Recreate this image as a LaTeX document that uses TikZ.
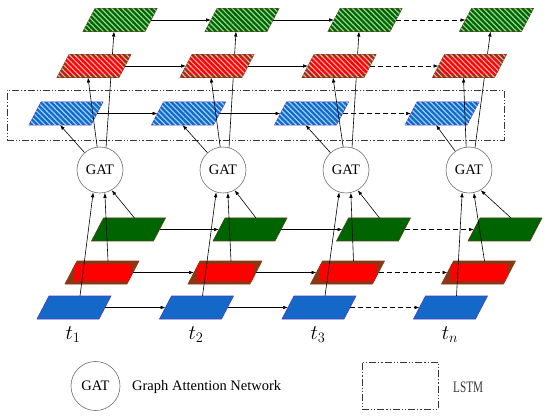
\documentclass[tikz,border=0pt]{standalone}
\usepackage{fontspec}
\setmainfont{Liberation Serif}
\usetikzlibrary{patterns.meta,arrows.meta,calc}
\pgfdeclarelayer{background}
\pgfsetlayers{background,main}
\definecolor{gfill}{RGB}{0,100,0}
\definecolor{gline}{RGB}{75,70,20}
\definecolor{gstripe}{RGB}{150,215,150}
\definecolor{rfill}{RGB}{255,0,0}
\definecolor{brownA}{RGB}{140,55,20}
\definecolor{rstripe}{RGB}{255,165,165}
\definecolor{bfill}{RGB}{20,105,200}
\definecolor{bline}{RGB}{70,60,190}
\definecolor{bstripe}{RGB}{150,210,255}
\definecolor{boxgray}{RGB}{55,55,55}
\definecolor{circgray}{RGB}{110,110,110}
\tikzset{
  para/.style={rectangle, xslant=0.522, minimum width=62pt, minimum height=23pt,
    inner sep=0pt, outer sep=0pt, line width=0.6pt},
  stripes/.style={pattern color=#1,
    pattern={Lines[angle=-45,distance=3.7pt,line width=1.2pt]}},
  gS/.style={para, fill=gfill, draw=gline},
  rS/.style={para, fill=brownA, draw=brownA},
  bS/.style={para, fill=bfill, draw=bline},
  gH/.style={gS, postaction={stripes=gstripe}},
  rH/.style={rS},
  bH/.style={bS, postaction={stripes=bstripe}},
  gat/.style={circle, draw=circgray, line width=0.6pt, fill=white,
    minimum size=46pt, inner sep=0pt, font=\fontsize{14.5}{16}\selectfont},
  arr/.style={-{Latex[length=5pt,width=3.6pt]}, line width=0.6pt, black},
  dsh/.style={arr, dash pattern=on 5pt off 3pt},
  lstm/.style={draw=boxgray, line width=0.9pt,
    dash pattern=on 7pt off 2pt on 1.2pt off 2pt on 1.2pt off 2pt},
  tlab/.style={anchor=base, font=\fontsize{20}{22}\selectfont},
}
% red core: a rectangle clipped by the parallelogram
\newcommand\redcore[1]{\fill[rfill] ($(#1.center)+(-28pt,-8.5pt)$) -- ($(#1.center)+(26.6pt,-8.5pt)$)
  -- ($(#1.center)+(29pt,-3.85pt)$) -- ($(#1.center)+(29pt,8.5pt)$)
  -- ($(#1.center)+(-26.6pt,8.5pt)$) -- ($(#1.center)+(-28pt,5.77pt)$) -- cycle;}
\newcommand\redhatch[1]{\path[stripes=rstripe] ($(#1.center)+(-37pt,-11.5pt)$) -- ($(#1.center)+(25pt,-11.5pt)$)
  -- ($(#1.center)+(37pt,11.5pt)$) -- ($(#1.center)+(-25pt,11.5pt)$) -- cycle;}
\begin{document}
\begin{tikzpicture}[x=1pt,y=-1pt]
\useasboundingbox (0,0) rectangle (550,420);
% LSTM box
\node[lstm, minimum width=497pt, minimum height=50pt, inner sep=0pt] (lstmbox) at (255.5,115) {};
% top hatched rows
\node[gH] (gh1) at (120,20) {};
\node[gH] (gh2) at (242,20) {};
\node[gH] (gh3) at (365,20) {};
\node[gH] (gh4) at (496.5,20) {};
\node[rH] (rh1) at (94,66) {};
\node[rH] (rh2) at (217,66) {};
\node[rH] (rh3) at (339,66) {};
\node[rH] (rh4) at (469.5,66) {};
\foreach \i in {1,2,3,4}{\redcore{rh\i}\redhatch{rh\i}}
\node[bH] (bh1) at (66,113.5) {};
\node[bH] (bh2) at (188.5,113.5) {};
\node[bH] (bh3) at (311.5,113.5) {};
\node[bH] (bh4) at (442,113.5) {};
% GAT
\node[gat] (gat1) at (100,170) {GAT};
\node[gat] (gat2) at (223,170) {GAT};
\node[gat] (gat3) at (346,170) {GAT};
\node[gat] (gat4) at (469,170) {GAT};
% bottom solid rows
\node[gS] (gs1) at (128.5,229.5) {};
\node[gS] (gs2) at (250,229.5) {};
\node[gS] (gs3) at (373.5,229.5) {};
\node[gS] (gs4) at (505,229.5) {};
\node[rS] (rs1) at (102,272.5) {};
\node[rS] (rs2) at (225,272.5) {};
\node[rS] (rs3) at (347.5,272.5) {};
\node[rS] (rs4) at (478.5,272.5) {};
\foreach \i in {1,2,3,4}{\redcore{rs\i}}
\node[bS] (bs1) at (74,307.5) {};
\node[bS] (bs2) at (196.5,307.5) {};
\node[bS] (bs3) at (319,307.5) {};
\node[bS] (bs4) at (450.5,307.5) {};
% time labels
\node[tlab] (t1) at (73,339) {$t_1$};
\node[tlab] (t2) at (196,339) {$t_2$};
\node[tlab] (t3) at (318,339) {$t_3$};
\node[tlab] (tn) at (450,339) {$t_n$};
% horizontal arrows
\foreach \r in {gh,rh,bh,gs,rs,bs}{
  \draw[arr] (\r1.east) -- (\r2.west);
  \draw[arr] (\r2.east) -- (\r3.west);
  \draw[dsh] (\r3.east) -- (\r4.west);
}
% vertical connections
\foreach \i in {1,2,3,4}{
  \begin{pgfonlayer}{background}
    \draw[arr] (gat\i.75) -- (gh\i.south);
  \end{pgfonlayer}
  \draw[arr] (gat\i.97) -- (rh\i.south);
  \draw[arr] (gat\i) -- (bh\i.south);
  \draw[arr] (bs\i.north) -- (gat\i.253);
  \draw[arr] (rs\i.north) -- (gat\i.282);
  \draw[arr] (gs\i.north) -- (gat\i.300);
}
% legend
\node[gat, minimum size=49pt] (leggat) at (95.5,386) {GAT};
\node[anchor=west, inner sep=0pt, font=\fontsize{14.5}{16}\selectfont] (legtext) at (132,387) {Graph Attention Network};
\node[lstm, minimum width=76pt, minimum height=47pt, inner sep=0pt] (legbox) at (400,385.5) {};
\node[anchor=west, inner sep=0pt, text=boxgray] (legtxt) at (453,387) {\scalebox{0.7}[1]{\fontsize{16}{18}\selectfont LSTM}};
\end{tikzpicture}
\end{document}
